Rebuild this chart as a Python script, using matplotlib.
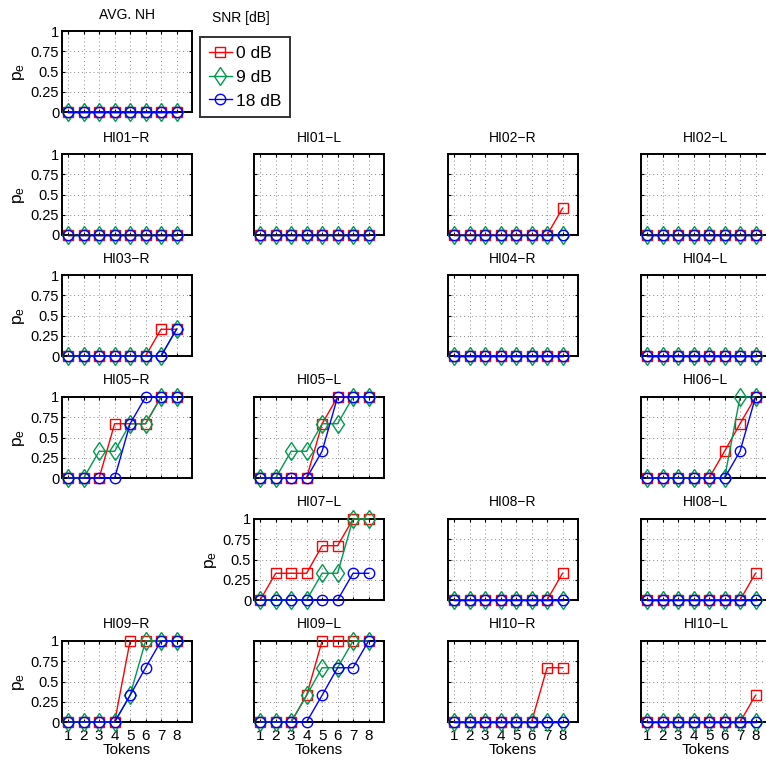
import numpy as np
import matplotlib
matplotlib.use('Agg')
import matplotlib.pyplot as plt
from matplotlib.lines import Line2D

plt.rcParams['font.family'] = ['Liberation Sans', 'DejaVu Sans']
plt.rcParams['mathtext.default'] = 'regular'

# Data: probability of error per token, for each subject/ear and SNR
tokens = [1, 2, 3, 4, 5, 6, 7, 8]
snr_labels = ['0 dB', '9 dB', '18 dB']

panel_titles = ['AVG. NH',
                'HI01-R', 'HI01-L', 'HI02-R', 'HI02-L',
                'HI03-R', 'HI04-R', 'HI04-L',
                'HI05-R', 'HI05-L', 'HI06-L',
                'HI07-L', 'HI08-R', 'HI08-L',
                'HI09-R', 'HI09-L', 'HI10-R', 'HI10-L']

Z = [0, 0, 0, 0, 0, 0, 0, 0]

pe_0db = {
    'AVG. NH': Z, 'HI01-R': Z, 'HI01-L': Z,
    'HI02-R': [0, 0, 0, 0, 0, 0, 0, 0.33], 'HI02-L': Z,
    'HI03-R': [0, 0, 0, 0, 0, 0, 0.33, 0.33],
    'HI04-R': Z, 'HI04-L': Z,
    'HI05-R': [0, 0, 0, 0.67, 0.67, 0.67, 1, 1],
    'HI05-L': [0, 0, 0, 0, 0.67, 1, 1, 1],
    'HI06-L': [0, 0, 0, 0, 0, 0.33, 0.67, 1],
    'HI07-L': [0, 0.33, 0.33, 0.33, 0.67, 0.67, 1, 1],
    'HI08-R': [0, 0, 0, 0, 0, 0, 0, 0.33],
    'HI08-L': [0, 0, 0, 0, 0, 0, 0, 0.33],
    'HI09-R': [0, 0, 0, 0, 1, 1, 1, 1],
    'HI09-L': [0, 0, 0, 0.33, 1, 1, 1, 1],
    'HI10-R': [0, 0, 0, 0, 0, 0, 0.67, 0.67],
    'HI10-L': [0, 0, 0, 0, 0, 0, 0, 0.33],
}
pe_9db = {
    'AVG. NH': Z, 'HI01-R': Z, 'HI01-L': Z, 'HI02-R': Z, 'HI02-L': Z,
    'HI03-R': [0, 0, 0, 0, 0, 0, 0, 0.33],
    'HI04-R': Z, 'HI04-L': Z,
    'HI05-R': [0, 0, 0.33, 0.33, 0.67, 0.67, 1, 1],
    'HI05-L': [0, 0, 0.33, 0.33, 0.67, 0.67, 1, 1],
    'HI06-L': [0, 0, 0, 0, 0, 0, 1, 1],
    'HI07-L': [0, 0, 0, 0, 0.33, 0.33, 1, 1],
    'HI08-R': Z, 'HI08-L': Z,
    'HI09-R': [0, 0, 0, 0, 0.33, 1, 1, 1],
    'HI09-L': [0, 0, 0, 0.33, 0.67, 0.67, 1, 1],
    'HI10-R': Z, 'HI10-L': Z,
}
pe_18db = {
    'AVG. NH': Z, 'HI01-R': Z, 'HI01-L': Z, 'HI02-R': Z, 'HI02-L': Z,
    'HI03-R': [0, 0, 0, 0, 0, 0, 0, 0.33],
    'HI04-R': Z, 'HI04-L': Z,
    'HI05-R': [0, 0, 0, 0, 0.67, 1, 1, 1],
    'HI05-L': [0, 0, 0, 0, 0.33, 1, 1, 1],
    'HI06-L': [0, 0, 0, 0, 0, 0, 0.33, 1],
    'HI07-L': [0, 0, 0, 0, 0, 0, 0.33, 0.33],
    'HI08-R': Z, 'HI08-L': Z,
    'HI09-R': [0, 0, 0, 0, 0.33, 0.67, 1, 1],
    'HI09-L': [0, 0, 0, 0, 0.33, 0.67, 0.67, 1],
    'HI10-R': Z, 'HI10-L': Z,
}

# grid position (row, col) of each panel
panel_pos = {
    'AVG. NH': (0, 0),
    'HI01-R': (1, 0), 'HI01-L': (1, 1), 'HI02-R': (1, 2), 'HI02-L': (1, 3),
    'HI03-R': (2, 0), 'HI04-R': (2, 2), 'HI04-L': (2, 3),
    'HI05-R': (3, 0), 'HI05-L': (3, 1), 'HI06-L': (3, 3),
    'HI07-L': (4, 1), 'HI08-R': (4, 2), 'HI08-L': (4, 3),
    'HI09-R': (5, 0), 'HI09-L': (5, 1), 'HI10-R': (5, 2), 'HI10-L': (5, 3),
}
ylabel_panels = ['AVG. NH', 'HI01-R', 'HI03-R', 'HI05-R', 'HI07-L', 'HI09-R']

colors = ['#ff0000', '#00994d', '#0000ff']
markers = ['s', 'd', 'o']
msizes = [6.5, 9.5, 7.5]

W, H = 766, 765
fig = plt.figure(figsize=(W / 100, H / 100), dpi=100)

col_left = [62, 254, 448, 641]
row_bottom = [112, 235, 356, 478, 600, 722]
ax_w, ax_h = 130, 81

for title in panel_titles:
    r, c = panel_pos[title]
    ax = fig.add_axes([col_left[c] / W, 1 - row_bottom[r] / H, ax_w / W, ax_h / H])
    for vals, col, mk, ms in zip([pe_0db[title], pe_9db[title], pe_18db[title]],
                                 colors, markers, msizes):
        ax.plot(tokens, vals, '-', color=col, marker=mk, markersize=ms,
                markerfacecolor='none', markeredgecolor=col, markeredgewidth=1.0,
                linewidth=1.0, clip_on=False, zorder=3)
    ax.set_xlim(0.6, 9.0)
    ax.set_ylim(0, 1)
    ax.set_xticks(tokens)
    ax.set_yticks([0, 0.25, 0.5, 0.75, 1])
    ax.grid(True, linestyle=(0, (1, 3)), color='#888888', linewidth=0.7)
    ax.tick_params(direction='in', length=2.5, top=True, right=True,
                   labelsize=10.5, pad=2)
    ax.tick_params(axis='x', pad=5)
    for sp in ax.spines.values():
        sp.set_linewidth(1.4)
    ax.set_title(title.replace('-', '\u2212'), fontsize=10, pad=9)
    if title in ylabel_panels:
        ax.set_yticklabels(['0', '0.25', '0.5', '0.75', '1'])
        ax.set_ylabel('p$_e$', fontsize=12.5, labelpad=3)
    else:
        ax.set_yticklabels([])
    if r == 5:
        ax.set_xticklabels([str(t) for t in tokens], fontsize=11)
        ax.set_xlabel('Tokens', fontsize=11, labelpad=0)
    else:
        ax.set_xticklabels([])

# legend, with its title written above the box
handles = [Line2D([], [], color=col, marker=mk, markersize=ms, markerfacecolor='none',
                  linewidth=1.0) for col, mk, ms in zip(colors, markers, msizes)]
leg = fig.legend(handles, snr_labels, loc='upper left',
                 bbox_to_anchor=(200 / W, 1 - 37 / H), fontsize=12.5,
                 frameon=True, fancybox=False, handlelength=1.35, handletextpad=0.2,
                 borderpad=0.5, labelspacing=0.5, borderaxespad=0)
leg.get_frame().set_edgecolor('black')
leg.get_frame().set_linewidth(1.4)
fig.text(241 / W, 1 - 18 / H, 'SNR [dB]', fontsize=10, ha='center', va='center')

fig.savefig('out.png', dpi=100)
